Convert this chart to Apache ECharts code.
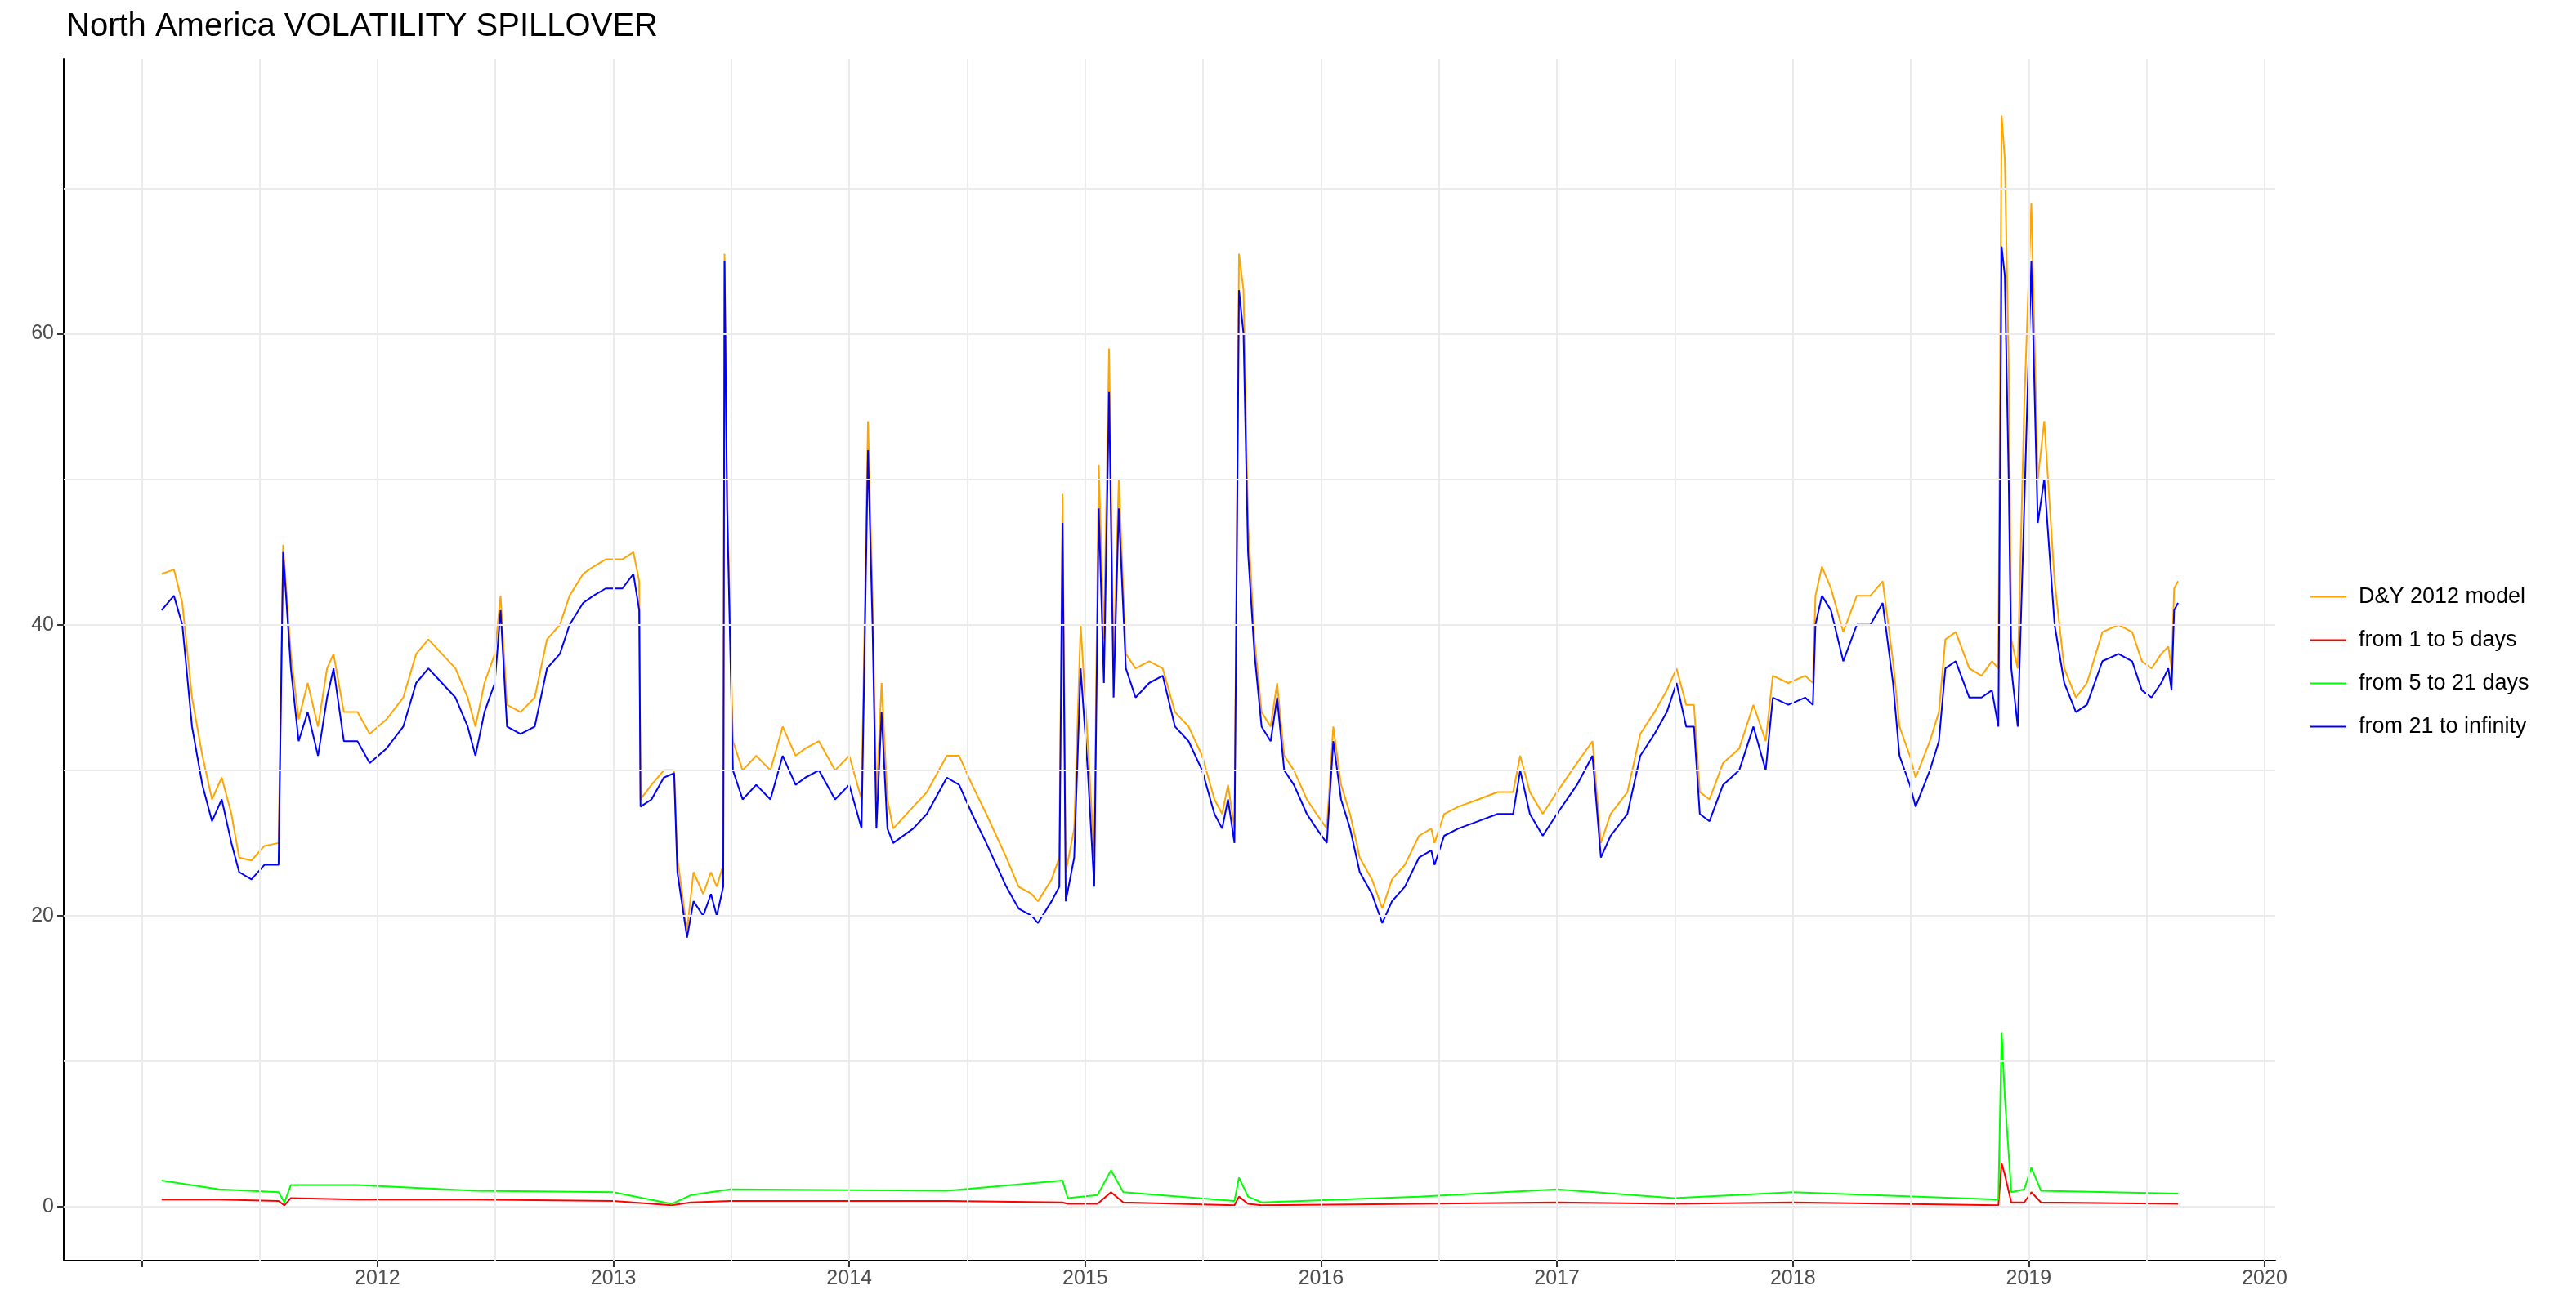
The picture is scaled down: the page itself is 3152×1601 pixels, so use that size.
<!DOCTYPE html>
<html>
<head>
<meta charset="UTF-8">
<title>North America VOLATILITY SPILLOVER</title>
<script src="https://cdn.jsdelivr.net/npm/echarts@6/dist/echarts.min.js"></script>
<style>
    html, body { margin: 0; padding: 0; background: #fff; }
    #chart { width: 3152px; height: 1601px; }
</style>
</head>
<body>
<div id="chart"></div>
<script>
    // dates shared by the total (D&Y) and long-term series
    const dates = [
        '2011-02-01','2011-02-20','2011-03-05','2011-03-20','2011-04-05','2011-04-20','2011-05-05','2011-05-20','2011-06-01','2011-06-20',
        '2011-07-10','2011-08-01','2011-08-08','2011-08-20','2011-09-01','2011-09-15','2011-10-01','2011-10-15','2011-10-25','2011-11-10',
        '2011-12-01','2011-12-20','2012-01-15','2012-02-10','2012-03-01','2012-03-20','2012-04-10','2012-05-01','2012-05-20','2012-06-01',
        '2012-06-15','2012-07-01','2012-07-10','2012-07-20','2012-08-10','2012-09-01','2012-09-20','2012-10-10','2012-10-25','2012-11-15',
        '2012-12-01','2012-12-20','2013-01-15','2013-02-01','2013-02-10','2013-02-12','2013-03-01','2013-03-20','2013-04-05','2013-04-10',
        '2013-04-25','2013-05-05','2013-05-20','2013-06-01','2013-06-10','2013-06-20','2013-06-22','2013-06-26','2013-07-05','2013-07-20',
        '2013-08-10','2013-09-01','2013-09-20','2013-10-10','2013-10-25','2013-11-15','2013-12-10','2014-01-01','2014-01-20','2014-01-30',
        '2014-02-06','2014-02-12','2014-02-20','2014-03-01','2014-03-10','2014-04-10','2014-05-01','2014-06-01','2014-06-20','2014-07-10',
        '2014-08-01','2014-09-01','2014-09-20','2014-10-10','2014-10-20','2014-11-10','2014-11-22','2014-11-27','2014-12-02','2014-12-15',
        '2014-12-25','2015-01-05','2015-01-15','2015-01-22','2015-01-30','2015-02-07','2015-02-14','2015-02-22','2015-03-05','2015-03-20',
        '2015-04-10','2015-05-01','2015-05-20','2015-06-10','2015-07-01','2015-07-20','2015-08-01','2015-08-10','2015-08-20','2015-08-27',
        '2015-09-03','2015-09-10','2015-09-20','2015-10-01','2015-10-15','2015-10-25','2015-11-05','2015-11-20','2015-12-10','2015-12-25',
        '2016-01-10','2016-01-20','2016-02-01','2016-02-15','2016-03-01','2016-03-20','2016-04-05','2016-04-20','2016-05-10','2016-06-01',
        '2016-06-20','2016-06-25','2016-07-10','2016-08-01','2016-09-01','2016-10-01','2016-10-25','2016-11-05','2016-11-20','2016-12-10',
        '2017-01-01','2017-02-01','2017-02-25','2017-03-10','2017-03-25','2017-04-20','2017-05-10','2017-06-01','2017-06-20','2017-07-05',
        '2017-07-20','2017-08-01','2017-08-10','2017-08-25','2017-09-15','2017-10-10','2017-11-01','2017-11-20','2017-12-01','2017-12-25',
        '2018-01-20','2018-02-01','2018-02-05','2018-02-15','2018-03-01','2018-03-20','2018-04-10','2018-05-01','2018-05-20','2018-06-05',
        '2018-06-15','2018-07-01','2018-07-10','2018-08-01','2018-08-15','2018-08-25','2018-09-10','2018-10-01','2018-10-20','2018-11-05',
        '2018-11-15','2018-11-20','2018-11-25','2018-12-01','2018-12-05','2018-12-15','2018-12-25','2019-01-05','2019-01-15','2019-01-25',
        '2019-02-10','2019-02-25','2019-03-15','2019-04-01','2019-04-25','2019-05-20','2019-06-10','2019-06-25','2019-07-10','2019-07-25',
        '2019-08-05','2019-08-10','2019-08-14','2019-08-20'
    ];
    const longTerm = [
        41,42,40,33,29,26.5,28,25,23,22.5,
        23.5,23.5,45,37,32,34,31,35,37,32,
        32,30.5,31.5,33,36,37,36,35,33,31,
        34,36,41,33,32.5,33,37,38,40,41.5,
        42,42.5,42.5,43.5,41,27.5,28,29.5,29.8,23,
        18.5,21,20,21.5,20,22,65,48,30,28,
        29,28,31,29,29.5,30,28,29,26,52,
        40,26,34,26,25,26,27,29.5,29,27,
        25,22,20.5,20,19.5,21,22,47,21,24,
        37,30,22,48,36,56,35,48,37,35,
        36,36.5,33,32,30,27,26,28,25,63,
        60,45,38,33,32,35,30,29,27,26,
        25,32,28,26,23,21.5,19.5,21,22,24,
        24.5,23.5,25.5,26,26.5,27,27,30,27,25.5,
        27,29,31,24,25.5,27,31,32.5,34,36,
        33,33,27,26.5,29,30,33,30,35,34.5,
        35,34.5,40,42,41,37.5,40,40,41.5,36,
        31,29,27.5,30,32,37,37.5,35,35,35.5,
        33,66,64,50,37,33,48,65,47,50,
        40,36,34,34.5,37.5,38,37.5,35.5,35,36,
        37,35.5,41,41.5
    ];
    const dyTotal = [
        43.5,43.8,41.5,35,31,28,29.5,27,24,23.8,
        24.8,25,45.5,38,33.5,36,33,37,38,34,
        34,32.5,33.5,35,38,39,38,37,35,33,
        36,38,42,34.5,34,35,39,40,42,43.5,
        44,44.5,44.5,45,43,28,29,30,30,24,
        19,23,21.5,23,22,23.5,65.5,49,32,30,
        31,30,33,31,31.5,32,30,31,28,54,
        42,28,36,28,26,27.5,28.5,31,31,29,
        27,24,22,21.5,21,22.5,24,49,23,26,
        40,32,24,51,39,59,37,50,38,37,
        37.5,37,34,33,31,28,27,29,26,65.5,
        63,47,39,34,33,36,31,30,28,27,
        26,33,29,27,24,22.5,20.5,22.5,23.5,25.5,
        26,25,27,27.5,28,28.5,28.5,31,28.5,27,
        28.5,30.5,32,25,27,28.5,32.5,34,35.5,37,
        34.5,34.5,28.5,28,30.5,31.5,34.5,32,36.5,36,
        36.5,36,42,44,42.5,39.5,42,42,43,37.5,
        33,31,29.5,32,34,39,39.5,37,36.5,37.5,
        37,75,72,58,39,37,55,69,50,54,
        43,37,35,36,39.5,40,39.5,37.5,37,38,
        38.5,37,42.5,43
    ];
    // short and medium horizon components
    const shortDates = [
        '2011-02-01','2011-05-01','2011-08-01','2011-08-10','2011-08-20','2011-12-01','2012-06-01','2013-01-01','2013-04-01','2013-05-01',
        '2013-07-01','2014-06-01','2014-11-27','2014-12-05','2015-01-20','2015-02-10','2015-03-01','2015-08-20','2015-08-27','2015-09-10',
        '2015-10-01','2016-06-01','2017-01-01','2017-07-01','2018-01-01','2018-11-15','2018-11-20','2018-11-25','2018-12-05','2018-12-25',
        '2019-01-05','2019-01-20','2019-08-20'
    ];
    const days1to5 = [
        0.5,0.5,0.4,0.1,0.6,0.5,0.5,0.4,0.1,0.3,
        0.4,0.4,0.3,0.2,0.2,1.0,0.3,0.1,0.7,0.2,
        0.1,0.2,0.3,0.2,0.3,0.1,3.0,2.2,0.3,0.3,
        1.0,0.3,0.2
    ];
    const days5to21 = [
        1.8,1.2,1.0,0.3,1.5,1.5,1.1,1.0,0.2,0.8,
        1.2,1.1,1.8,0.6,0.8,2.5,1.0,0.4,2.0,0.7,
        0.3,0.7,1.2,0.6,1.0,0.5,12,7.5,1.0,1.2,
        2.7,1.1,0.9
    ];
    const legendNames = ['D&Y 2012 model', 'from 1 to 5 days', 'from 5 to 21 days', 'from 21 to infinity'];
    const lineColors = ['#FFA500', '#FF0000', '#00FF00', '#0000FF'];

    // axis breaks
    const xLabelYears = [2012, 2013, 2014, 2015, 2016, 2017, 2018, 2019, 2020];
    const xTickYears = [2011, 2012, 2013, 2014, 2015, 2016, 2017, 2018, 2019, 2020];
    const xGridYears = [2011, 2011.5, 2012, 2012.5, 2013, 2013.5, 2014, 2014.5, 2015, 2015.5,
                        2016, 2016.5, 2017, 2017.5, 2018, 2018.5, 2019, 2019.5, 2020];
    const yLabels = [0, 20, 40, 60];
    const yGrid = [0, 10, 20, 30, 40, 50, 60, 70];

    // decimal year for the x axis
    function toYear(s) {
        const d = new Date(s + 'T00:00:00Z');
        const y = d.getUTCFullYear();
        const start = Date.UTC(y, 0, 1), end = Date.UTC(y + 1, 0, 1);
        return y + (d.getTime() - start) / (end - start);
    }
    const pair = (ds, vs) => ds.map((d, i) => [toYear(d), vs[i]]);

    const chart = echarts.init(document.getElementById('chart'));
    const fontFamily = '"Liberation Sans", Arial, sans-serif';
    const mkSeries = (name, color, data) => ({
        name: name, type: 'line', data: data, showSymbol: false, z: 3,
        lineStyle: { width: 2, color: color }, itemStyle: { color: color }, animation: false
    });

    chart.setOption({
        backgroundColor: '#fff',
        title: {
            text: 'North America VOLATILITY SPILLOVER', left: 76, top: 8,
            textStyle: { fontFamily: fontFamily, fontWeight: 'normal', fontSize: 40, color: '#000' }
        },
        legend: {
            orient: 'vertical', left: 2822, top: 712, itemGap: 26, itemWidth: 44, itemHeight: 2,
            icon: 'rect', data: legendNames,
            textStyle: { fontFamily: fontFamily, fontSize: 27, color: '#000', padding: [0, 0, 0, 10] }
        },
        grid: { left: 78, right: 368, top: 72, bottom: 58, containLabel: false },
        xAxis: {
            type: 'value', min: 2010.67, max: 2020.045,
            axisLine: { onZero: false, lineStyle: { color: '#000', width: 2 } },
            axisTick: { show: true, length: 8, customValues: xTickYears, lineStyle: { color: '#333', width: 2 } },
            axisLabel: {
                fontFamily: fontFamily, fontSize: 25, color: '#4d4d4d', margin: 10,
                customValues: xLabelYears, formatter: v => String(Math.round(v))
            },
            splitLine: { show: false }
        },
        yAxis: {
            type: 'value', min: -3.7, max: 78.9,
            axisLine: { show: true, lineStyle: { color: '#000', width: 2 } },
            axisTick: { show: true, length: 8, customValues: yLabels, lineStyle: { color: '#333', width: 2 } },
            axisLabel: {
                fontFamily: fontFamily, fontSize: 25, color: '#4d4d4d', margin: 12,
                customValues: yLabels
            },
            splitLine: { show: false }
        },
        series: [
            {
                type: 'line', data: [], silent: true, z: 1,
                markLine: {
                    silent: true, symbol: 'none', label: { show: false }, animation: false,
                    lineStyle: { color: '#ebebeb', width: 2, type: 'solid' },
                    data: xGridYears.map(v => ({ xAxis: v })).concat(yGrid.map(v => ({ yAxis: v })))
                }
            },
            mkSeries(legendNames[0], lineColors[0], pair(dates, dyTotal)),
            mkSeries(legendNames[1], lineColors[1], pair(shortDates, days1to5)),
            mkSeries(legendNames[2], lineColors[2], pair(shortDates, days5to21)),
            mkSeries(legendNames[3], lineColors[3], pair(dates, longTerm))
        ]
    });
</script>
</body>
</html>
